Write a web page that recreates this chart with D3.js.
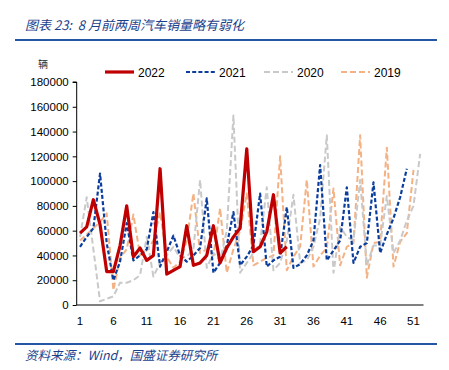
<!DOCTYPE html>
<html>
<head>
<meta charset="utf-8">
<script src="https://cdn.jsdelivr.net/npm/d3@7"></script>
<style>
  body { margin: 0; background: #fff; }
  svg { display: block; }
  .axis text { font-family: "Liberation Sans", Arial, sans-serif; font-size: 11.5px; fill: #000; }
  .axis path, .axis line { stroke: #000; }
</style>
</head>
<body>
<svg width="449" height="370"></svg>
<script>
var svg = d3.select("svg"),
  width = +svg.attr("width"),
  height = +svg.attr("height");

// weeks 1..52
var weeks = d3.range(1, 53);
var tickWeeks = [1, 6, 11, 16, 21, 26, 31, 36, 41, 46, 51];
var yTicks = [0, 20000, 40000, 60000, 80000, 100000, 120000, 140000, 160000, 180000];

var s2022 = [58000, 63000, 85000, 65000, 27000, 27000, 48000, 80000, 39000, 46000,
  36000, 40000, 110000, 25000, 28000, 31000, 64000, 32000, 34000, 40000,
  64000, 34000, 46000, 55000, 62000, 126000, 43000, 47000, 59000, 89000,
  42000, 47000];
var s2021 = [47000, 55000, 62000, 106000, 50000, 20000, 35000, 66000, 36000, 40000,
  45000, 75000, 31000, 43000, 56000, 40000, 35000, 40000, 46000, 86000,
  26000, 34000, 48000, 75000, 32000, 39000, 48000, 90000, 31000, 36000,
  39000, 79000, 30000, 33000, 40000, 52000, 113000, 36000, 44000, 52000,
  95000, 34000, 47000, 50000, 99000, 42000, 57000, 70000, 87000, 110000];
var s2020 = [55000, 87000, 45000, 3000, 5000, 7000, 18000, 18000, 20000, 24000,
  55000, 23000, 34000, 40000, 47000, 38000, 39000, 45000, 101000, 30000,
  42000, 36000, 60000, 153000, 26000, 34000, 42000, 50000, 95000, 28000,
  34000, 52000, 89000, 34000, 36000, 47000, 70000, 137000, 26000, 63000,
  55000, 52000, 101000, 32000, 48000, 48000, 88000, 42000, 52000, 68000,
  80000, 122000];
var s2019 = [52000, 57000, 62000, 67000, 74000, 12000, 38000, 45000, 73000, 40000,
  44000, 52000, 75000, 39000, 30000, 35000, 52000, 90000, 42000, 45000,
  40000, 78000, 26000, 45000, 60000, 90000, 32000, 35000, 38000, 40000,
  120000, 28000, 39000, 47000, 101000, 31000, 40000, 46000, 94000, 32000,
  47000, 50000, 137000, 22000, 50000, 51000, 127000, 31000, 51000, 58000,
  109000];

var series = [
  {name: "2019", values: s2019, color: "#F4B183", width: 2, dash: "6,3"},
  {name: "2020", values: s2020, color: "#C9C9C9", width: 2, dash: "6,3"},
  {name: "2021", values: s2021, color: "#0A3D9C", width: 2.2, dash: "4,2.2"},
  {name: "2022", values: s2022, color: "#C00000", width: 3.2, dash: null}
];

var x = d3.scaleBand()
  .domain(weeks)
  .range([76.7, 423.5])
  .padding(0);

var y = d3.scaleLinear()
  .domain([0, 180000])
  .range([305, 82]);

function cx(w) { return x(w) + x.bandwidth() / 2; }

// title
svg.append("text")
  .attr("x", 25).attr("y", 30)
  .attr("xml:space", "preserve")
  .attr("font-family", "'Noto Sans CJK SC', sans-serif")
  .attr("font-style", "italic")
  .attr("font-size", 13)
  .attr("fill", "#1B3F8C")
  .text("图表 23:  8 月前两周汽车销量略有弱化");

svg.append("line")
  .attr("x1", 15).attr("x2", 437).attr("y1", 40).attr("y2", 40)
  .attr("stroke", "#2456A5").attr("stroke-width", 2);

svg.append("line")
  .attr("x1", 15).attr("x2", 437).attr("y1", 344).attr("y2", 344)
  .attr("stroke", "#2456A5").attr("stroke-width", 2);

svg.append("text")
  .attr("x", 25).attr("y", 360)
  .attr("font-family", "'Noto Sans CJK SC', sans-serif")
  .attr("font-style", "italic")
  .attr("font-size", 12.5)
  .attr("fill", "#1B3F8C")
  .text("资料来源：Wind，国盛证券研究所");

// unit
svg.append("text")
  .attr("x", 38).attr("y", 68)
  .attr("font-family", "'Noto Sans CJK SC', sans-serif")
  .attr("font-size", 10)
  .attr("fill", "#333")
  .text("辆");

// axes
svg.append("g")
  .attr("class", "axis")
  .attr("transform", "translate(76.7,0)")
  .call(d3.axisLeft(y).tickValues(yTicks).tickSize(4).tickPadding(4).tickFormat(d3.format("d")))
  .call(function(g) { g.select(".domain").attr("d", "M-4," + y(180000) + "H0V" + y(0)); });

svg.append("g")
  .attr("class", "axis")
  .attr("transform", "translate(0,305)")
  .call(d3.axisBottom(x).tickValues(tickWeeks).tickSize(0).tickPadding(12))
  .call(function(g) { g.select(".domain").attr("d", "M76.7,0H423.5"); });

// lines
var line = d3.line()
  .x(function(d, i) { return cx(weeks[i]); })
  .y(function(d) { return y(d); });

svg.selectAll(".series")
  .data(series)
  .enter().append("path")
  .attr("class", "series")
  .attr("fill", "none")
  .attr("stroke", function(d) { return d.color; })
  .attr("stroke-width", function(d) { return d.width; })
  .attr("stroke-dasharray", function(d) { return d.dash; })
  .attr("stroke-linejoin", "round")
  .attr("d", function(d) { return line(d.values); });

// legend
var legendX = [105, 186, 264, 341];
var legendOrder = [series[3], series[2], series[1], series[0]];
var lg = svg.selectAll(".legend")
  .data(legendOrder)
  .enter().append("g")
  .attr("class", "legend")
  .attr("transform", function(d, i) { return "translate(" + legendX[i] + ",72)"; });

lg.append("line")
  .attr("x1", 0).attr("x2", 29)
  .attr("stroke", function(d) { return d.color; })
  .attr("stroke-width", function(d) { return d.width; })
  .attr("stroke-dasharray", function(d) { return d.dash; });

lg.append("text")
  .attr("x", 33).attr("y", 4.5)
  .attr("font-family", "'Liberation Sans', Arial, sans-serif")
  .attr("font-size", 12)
  .attr("fill", "#000")
  .text(function(d) { return d.name; });
</script>
</body>
</html>
